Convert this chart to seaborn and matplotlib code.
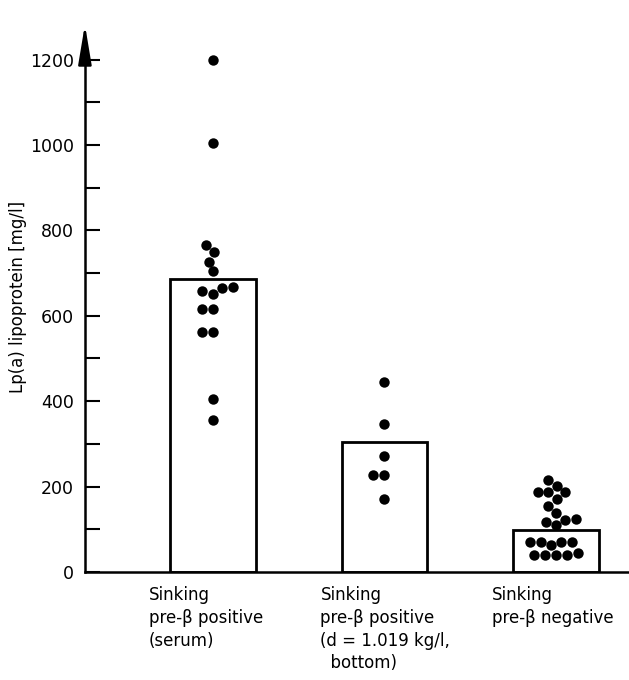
import pandas as pd
import seaborn as sns
import matplotlib.pyplot as plt
import matplotlib.transforms as mtransforms
from matplotlib.ticker import MultipleLocator

# groups shown on the x axis
groups = ['serum', 'd1019', 'negative']
group_labels = ['Sinking\npre-β positive\n(serum)',
                'Sinking\npre-β positive\n(d = 1.019 kg/l,\n  bottom)',
                'Sinking\npre-β negative']

# bar heights (mg/l)
bar_heights = [687, 304, 98]

# individual values per group (mg/l)
serum_vals = [1200, 1005, 765, 749, 727, 704, 667, 665, 657, 652,
              617, 617, 561, 561, 405, 355]
d1019_vals = [444, 346, 272, 227, 227, 171]
negative_vals = [216, 202, 186, 186, 186, 170, 155, 138, 124, 122, 118, 110,
                 71, 71, 71, 71, 62, 45, 40, 40, 40, 40]

points = pd.DataFrame({
    'group': ['serum'] * len(serum_vals) + ['d1019'] * len(d1019_vals)
             + ['negative'] * len(negative_vals),
    'value': serum_vals + d1019_vals + negative_vals,
})

sns.set_style('ticks')
plt.rcParams['font.family'] = ['DejaVu Sans']
plt.rcParams.update({'text.color': 'black', 'axes.labelcolor': 'black',
                     'xtick.color': 'black', 'ytick.color': 'black',
                     'axes.edgecolor': 'black'})

fig = plt.figure(figsize=(6.29, 6.80), dpi=100)
ax = fig.add_axes([0.135, 0.159, 0.865, 0.809])

# bars: white with black outline
sns.barplot(x=groups, y=bar_heights, order=groups, color='white',
            edgecolor='black', linewidth=2, width=0.5, ax=ax)

# dots
sns.swarmplot(data=points, x='group', y='value', order=groups, color='black',
              size=7.5, ax=ax)

ax.set_xlim(-0.746, 2.426)
ax.set_ylim(0, 1289)

# y axis ticks
ax.yaxis.set_major_locator(MultipleLocator(200))
ax.yaxis.set_minor_locator(MultipleLocator(100))
ax.set_yticks([0, 200, 400, 600, 800, 1000, 1200])
ax.tick_params(axis='y', which='both', direction='in', length=11, width=1.5,
               labelsize=12.5, pad=8)
ax.set_ylabel('Lp(a) lipoprotein [mg/l]', fontsize=12, labelpad=2)

# x tick labels as multi-line, left-aligned text under each bar
ax.set_xticks(range(len(groups)))
ax.set_xticklabels(group_labels, fontsize=12, linespacing=1.35)
ax.tick_params(axis='x', length=0, pad=10)
offset = mtransforms.ScaledTranslation(-0.64, 0, fig.dpi_scale_trans)
for lbl in ax.get_xticklabels():
    lbl.set_horizontalalignment('left')
    lbl.set_multialignment('left')
    lbl.set_transform(lbl.get_transform() + offset)
ax.set_xlabel('')

sns.despine(ax=ax)
ax.spines['left'].set_linewidth(1.8)
ax.spines['bottom'].set_linewidth(1.8)
ax.spines['left'].set_bounds(0, 1240)

# arrow on the y axis
ax.annotate('', xy=(0, 1.0), xytext=(0, 0.93), xycoords='axes fraction',
            arrowprops=dict(arrowstyle='-|>,head_length=1.2,head_width=0.2',
                            color='black', lw=1.8, mutation_scale=20))

fig.savefig('out.png', dpi=100)
